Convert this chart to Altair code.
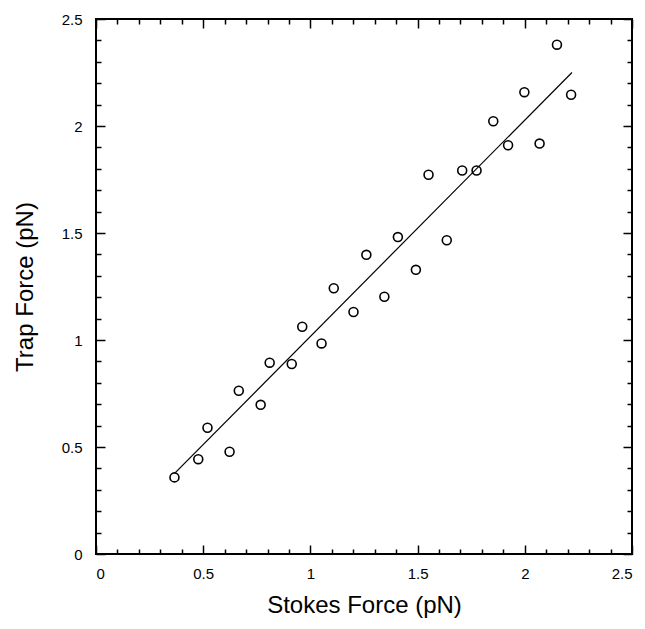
import altair as alt
import pandas as pd

stokes = [0.366, 0.477, 0.520, 0.623, 0.666, 0.768, 0.810, 0.913, 0.962, 1.052,
          1.109, 1.201, 1.261, 1.345, 1.408, 1.492, 1.551, 1.636, 1.708, 1.775,
          1.853, 1.922, 1.998, 2.069, 2.150, 2.216]
trap = [0.358, 0.443, 0.590, 0.478, 0.763, 0.697, 0.894, 0.888, 1.062, 0.984,
        1.242, 1.131, 1.398, 1.202, 1.481, 1.328, 1.772, 1.466, 1.792, 1.792,
        2.022, 1.910, 2.158, 1.918, 2.380, 2.146]
fit_x = [0.37, 2.22]
fit_y = [0.38, 2.25]
major_ticks = [0, 0.5, 1, 1.5, 2, 2.5]
all_ticks = [i / 10 for i in range(26)]

W, H = 536, 535
FONT = "Liberation Sans"

pts = pd.DataFrame({"x": stokes, "y": trap})
fit = pd.DataFrame({"x": fit_x, "y": fit_y})

xs = alt.Scale(domain=[0, 2.5], nice=False, zero=False)
ys = alt.Scale(domain=[0, 2.5], nice=False, zero=False)

tick_size = {"condition": {"test": "abs(datum.value*2 - round(datum.value*2)) < 0.001", "value": 9}, "value": 5}


def tick_axis(orient, offset):
    return alt.Axis(orient=orient, offset=offset, values=all_ticks, labels=False,
                    title=None, domain=False, grid=False, ticks=True,
                    tickColor="black", tickWidth=1.5, tickSize=tick_size)


points = alt.Chart(pts).mark_point(shape="circle", filled=False, color="black",
                                   size=80, strokeWidth=1.6, opacity=1).encode(
    x=alt.X("x:Q", scale=xs, axis=alt.Axis(orient="bottom", values=major_ticks, format="~g",
                                           ticks=False, domain=False, grid=False,
                                           title="Stokes Force (pN)", labelPadding=12,
                                           titlePadding=12)),
    y=alt.Y("y:Q", scale=ys, axis=alt.Axis(orient="left", values=major_ticks, format="~g",
                                           ticks=False, domain=False, grid=False,
                                           title="Trap Force (pN)", labelPadding=14,
                                           titlePadding=24)),
)

line = alt.Chart(fit).mark_line(color="black", strokeWidth=1.2).encode(
    x=alt.X("x:Q", scale=xs, axis=tick_axis("top", -H)),
    y=alt.Y("y:Q", scale=ys, axis=tick_axis("right", -W)),
)

ghost = alt.Chart(fit).mark_line(color="black", opacity=0).encode(
    x=alt.X("x:Q", scale=xs, axis=tick_axis("bottom", -H)),
    y=alt.Y("y:Q", scale=ys, axis=tick_axis("left", -W)),
)

chart = alt.layer(points, line, ghost).resolve_axis(x="independent", y="independent").properties(
    width=W, height=H,
    autosize=alt.AutoSizeParams(type="none"),
    padding={"left": 88, "top": 11, "right": 5, "bottom": 67},
).configure_view(stroke="black", strokeWidth=2).configure_axis(
    labelFont=FONT, labelFontSize=15, labelColor="black",
    titleFont=FONT, titleFontSize=24, titleFontWeight="normal", titleColor="black",
)

chart.save("out.html", embed_options={"renderer": "svg", "actions": False})
